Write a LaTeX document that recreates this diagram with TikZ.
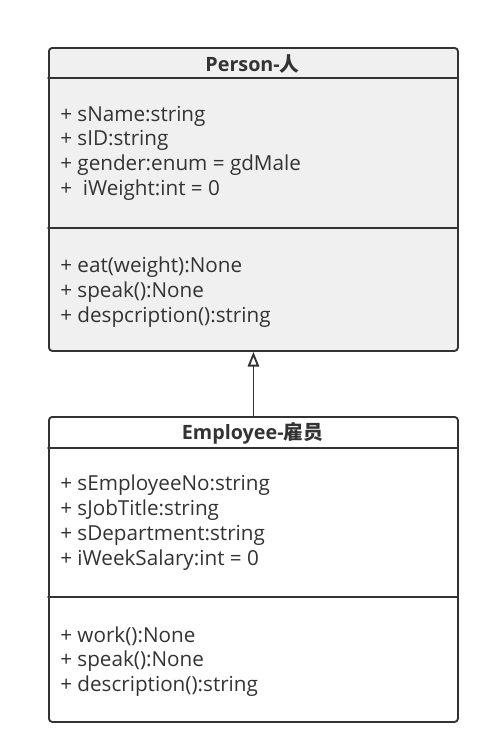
\documentclass[tikz,border=0pt]{standalone}
\usepackage{fontspec}
\setmainfont{Open Sans}
\newfontfamily\cjk{Noto Sans CJK SC}
\usetikzlibrary{arrows.meta}
\definecolor{umlline}{HTML}{333333}
\definecolor{umlfill}{HTML}{F0F0F0}
\begin{document}
\begin{tikzpicture}[x=0.75pt, y=-0.75pt, line join=round, line cap=round, >={Triangle[open,length=11pt,width=8.5pt]}]
	\tikzset{classbox/.style={draw=umlline, line width=1.4pt, rounded corners=2.5pt, rectangle, anchor=north west, inner sep=0pt},
		member/.style={anchor=west, text=umlline, font=\fontsize{15.5}{18}\selectfont, inner sep=0pt},
		title/.style={text=umlline, font=\fontsize{14.8}{18}\selectfont\bfseries, inner sep=0pt}}
	\def\xl{48}\def\xr{457}\def\tx{60}
	\useasboundingbox (0,0) rectangle (489,754);
	% superclass
	\node[classbox, fill=umlfill, minimum width=409*0.75pt, minimum height=303*0.75pt] (person) at (\xl,47) {};
	\draw[umlline, line width=1.4pt] (\xl,78)--(\xr,78);
	\draw[umlline, line width=1.4pt] (\xl,228)--(\xr,228);
	\node[title] (pname) at (252.5,64) {Person-{\cjk 人}};
	\node[member] (p1) at (\tx,116) {+ sName:string};
	\node[member] (p2) at (\tx,140.5) {+ sID:string};
	\node[member] (p3) at (\tx,165.5) {+ gender:enum = gdMale};
	\node[member] (p4) at (\tx,190.5) {+ \ iWeight:int = 0};
	\node[member] (p5) at (\tx,267.5) {+ eat(weight):None};
	\node[member] (p6) at (\tx,292.5) {+ speak():None};
	\node[member] (p7) at (\tx,317.5) {+ despcription():string};
	% subclass
	\node[classbox, fill=white, minimum width=409*0.75pt, minimum height=305*0.75pt] (employee) at (\xl,416) {};
	\draw[umlline, line width=1.4pt] (\xl,448)--(\xr,448);
	\draw[umlline, line width=1.4pt] (\xl,597)--(\xr,597);
	\node[title] (ename) at (252.5,433) {Employee-{\cjk 雇员}};
	\node[member] (e1) at (\tx,485.5) {+ sEmployeeNo:string};
	\node[member] (e2) at (\tx,510.5) {+ sJobTitle:string};
	\node[member] (e3) at (\tx,535.5) {+ sDepartment:string};
	\node[member] (e4) at (\tx,560.5) {+ iWeekSalary:int = 0};
	\node[member] (e5) at (\tx,636.5) {+ work():None};
	\node[member] (e6) at (\tx,661.5) {+ speak():None};
	\node[member] (e7) at (\tx,686.5) {+ description():string};
	% generalisation
	\draw[->, umlline, line width=1.4pt] (employee.north) -- (person.south);
\end{tikzpicture}
\end{document}
